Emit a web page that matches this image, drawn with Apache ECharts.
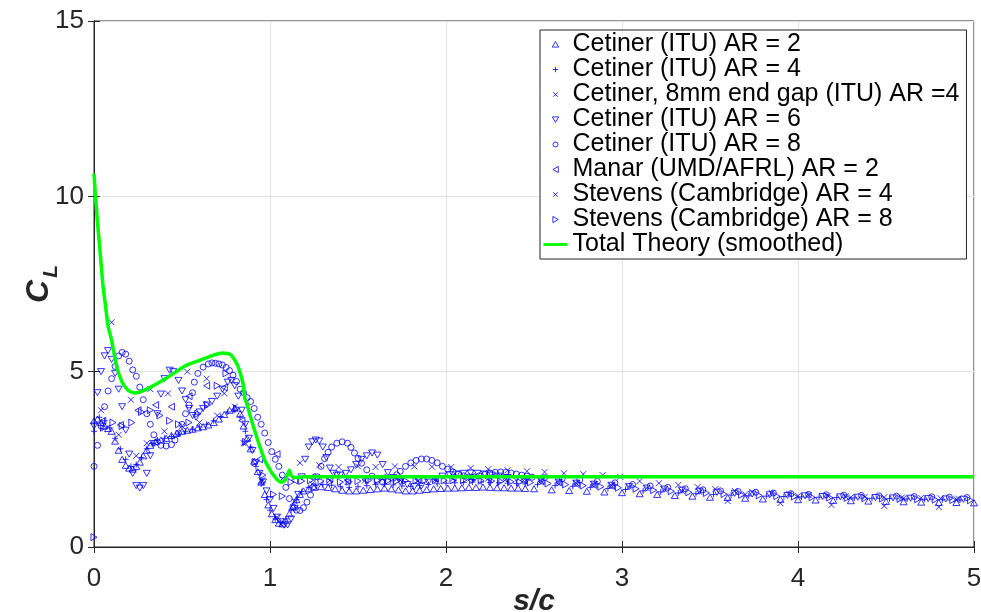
<!DOCTYPE html>
<html><head><meta charset="utf-8">
<script src="https://cdn.jsdelivr.net/npm/echarts@6/dist/echarts.min.js"></script>
<style>html,body{margin:0;padding:0;background:#fff}#c{width:981px;height:612px}</style>
</head><body><div id="c"></div>
<script>
const xTicks = [0, 1, 2, 3, 4, 5];
const yTicks = [0, 5, 10, 15];

const cetinerAR2 = [[0,3.6],[0.02,3.65],[0.04,3.55],[0.06,3.45],[0.08,3.38],[0.1,3.3],[0.12,3.02],[0.14,2.76],[0.16,2.5],[0.18,2.33],[0.2,2.25],[0.22,2.22],[0.24,2.3],[0.26,2.42],[0.28,2.6],[0.3,2.76],[0.32,2.9],[0.35,3.0],[0.38,3.05],[0.41,3.1],[0.44,3.18],[0.47,3.24],[0.5,3.3],[0.53,3.33],[0.56,3.36],[0.59,3.4],[0.62,3.43],[0.65,3.48],[0.68,3.55],[0.71,3.65],[0.74,3.78],[0.77,3.9],[0.8,3.96],[0.83,3.8],[0.85,3.45],[0.87,3.1],[0.89,2.8],[0.91,2.45],[0.93,2.15],[0.95,1.85],[0.97,1.5],[0.99,1.2],[1.01,0.95],[1.03,0.78],[1.05,0.68],[1.07,0.66],[1.09,0.75],[1.11,0.95],[1.13,1.15],[1.15,1.35],[1.17,1.5],[1.19,1.6],[1.22,1.66],[1.25,1.7],[1.29,1.72],[1.33,1.7],[1.37,1.66],[1.41,1.62],[1.45,1.6],[1.49,1.6],[1.53,1.62],[1.57,1.64],[1.61,1.66],[1.65,1.68],[1.69,1.66],[1.73,1.63],[1.77,1.6],[1.81,1.6],[1.85,1.62],[1.89,1.64],[1.93,1.66],[1.97,1.67],[2.01,1.68],[2.05,1.68],[2.09,1.69],[2.13,1.7],[2.17,1.7],[2.21,1.71],[2.25,1.7],[2.29,1.69],[2.33,1.69],[2.37,1.68],[2.41,1.68],[2.45,1.67],[2.5,1.66],[2.6,1.63],[2.7,1.61],[2.8,1.59],[2.9,1.57],[3.0,1.55],[3.1,1.52],[3.2,1.5],[3.3,1.47],[3.4,1.45],[3.5,1.42],[3.6,1.41],[3.7,1.39],[3.8,1.37],[3.9,1.36],[4.0,1.35],[4.1,1.34],[4.2,1.33],[4.3,1.32],[4.4,1.31],[4.5,1.3],[4.6,1.29],[4.7,1.28],[4.8,1.27],[4.9,1.27],[5.0,1.26]];

const cetinerAR4 = [[0,3.3],[0.03,3.7],[0.06,3.6],[0.09,3.4],[0.12,3.1],[0.15,2.8],[0.18,2.5],[0.21,2.3],[0.24,2.35],[0.27,2.55],[0.3,2.8],[0.33,2.95],[0.36,3.05],[0.4,3.1],[0.44,3.15],[0.48,3.22],[0.52,3.3],[0.56,3.35],[0.6,3.42],[0.64,3.5],[0.68,3.6],[0.72,3.72],[0.76,3.85],[0.8,3.9],[0.83,3.7],[0.86,3.3],[0.89,2.85],[0.92,2.3],[0.95,1.8],[0.98,1.35],[1.0,1.05],[1.03,0.8],[1.06,0.7],[1.09,0.8],[1.12,1.05],[1.15,1.35],[1.18,1.58],[1.22,1.7],[1.26,1.76],[1.3,1.78],[1.35,1.76],[1.4,1.72],[1.45,1.7],[1.5,1.72],[1.55,1.75],[1.6,1.78],[1.65,1.79],[1.7,1.77],[1.75,1.74],[1.8,1.73],[1.85,1.75],[1.9,1.78],[1.95,1.8],[2.0,1.82],[2.05,1.83],[2.1,1.84],[2.15,1.85],[2.2,1.85],[2.25,1.84],[2.3,1.83],[2.35,1.82],[2.4,1.81],[2.45,1.8],[2.52,1.78],[2.62,1.75],[2.72,1.73],[2.82,1.7],[2.92,1.67],[3.02,1.64],[3.12,1.6],[3.22,1.57],[3.32,1.54],[3.42,1.52],[3.52,1.5],[3.62,1.48],[3.72,1.46],[3.82,1.45],[3.92,1.44],[4.02,1.43],[4.12,1.42],[4.22,1.41],[4.32,1.4],[4.42,1.39],[4.52,1.38],[4.62,1.37],[4.72,1.36],[4.82,1.35],[4.92,1.34]];

const cetinerGapAR4 = [[0.04,3.9],[0.14,3.2],[0.24,2.6],[0.3,2.96],[0.4,3.3],[0.5,3.45],[0.6,3.55],[0.7,3.75],[0.8,4.0],[0.86,2.96],[0.95,1.9],[1.04,0.85],[1.14,1.3],[1.24,1.8],[1.34,1.9],[1.44,1.85],[1.54,1.9],[1.64,1.95],[1.74,1.9],[1.84,1.88],[1.94,1.92],[2.04,1.95],[2.14,1.96],[2.24,1.95],[2.34,1.93],[2.44,1.9],[2.54,1.88],[2.64,1.85],[2.74,1.82],[2.84,1.79],[2.94,1.75],[3.04,1.72],[3.14,1.68],[3.24,1.64],[3.34,1.6],[3.44,1.57],[3.6,1.31],[3.7,1.5],[3.9,1.25],[4.0,1.46],[4.19,1.2],[4.3,1.42],[4.49,1.17],[4.6,1.39],[4.8,1.14],[4.9,1.36]];

const cetinerAR6 = [[0,3.45],[0.02,4.4],[0.04,5.0],[0.06,5.45],[0.08,5.6],[0.1,5.35],[0.12,4.95],[0.14,4.5],[0.16,4.0],[0.18,3.33],[0.2,2.65],[0.22,2.1],[0.24,1.75],[0.26,1.68],[0.28,1.75],[0.3,2.1],[0.32,2.6],[0.34,2.95],[0.36,3.8],[0.38,4.36],[0.4,4.8],[0.43,5.04],[0.45,5.0],[0.48,4.75],[0.5,4.45],[0.52,4.2],[0.54,3.95],[0.56,3.75],[0.58,3.7],[0.6,3.85],[0.62,3.95],[0.64,4.05],[0.67,4.15],[0.7,4.3],[0.73,4.5],[0.76,4.7],[0.78,4.75],[0.8,4.6],[0.82,4.3],[0.84,3.9],[0.86,3.5],[0.88,3.1],[0.9,2.75],[0.92,2.4],[0.94,2.1],[0.96,1.85],[0.98,1.6],[1.0,1.35],[1.02,1.1],[1.04,0.85],[1.06,0.72],[1.08,0.62],[1.1,0.63],[1.12,0.8],[1.14,1.1],[1.16,1.5],[1.18,2.0],[1.2,2.5],[1.22,2.85],[1.24,3.0],[1.26,3.05],[1.28,3.02],[1.3,2.85],[1.32,2.55],[1.34,2.25],[1.36,2.1],[1.38,2.05],[1.4,2.05],[1.43,2.1],[1.46,2.2],[1.49,2.35],[1.52,2.5],[1.55,2.6],[1.58,2.68],[1.61,2.62],[1.64,2.35],[1.67,2.12],[1.7,1.98],[1.74,1.86],[1.78,1.78],[1.82,1.72],[1.86,1.74],[1.9,1.85],[1.94,1.95],[1.98,2.02],[2.02,2.06],[2.06,2.08],[2.1,2.1],[2.14,2.11],[2.18,2.1],[2.22,2.08],[2.26,2.05],[2.3,2.02],[2.35,1.98],[2.4,1.95],[2.46,1.92],[2.54,1.88],[2.64,1.85],[2.74,1.82],[2.84,1.79],[2.94,1.76],[3.04,1.72],[3.14,1.68],[3.24,1.65],[3.34,1.62],[3.44,1.59],[3.54,1.56],[3.64,1.53],[3.74,1.51],[3.84,1.49],[3.94,1.47],[4.04,1.46],[4.14,1.44],[4.24,1.43],[4.34,1.42],[4.44,1.41],[4.54,1.4],[4.64,1.39],[4.74,1.38],[4.84,1.37],[4.94,1.36]];

const cetinerAR8 = [[0,2.3],[0.02,2.9],[0.04,3.45],[0.06,4.0],[0.08,4.45],[0.1,4.8],[0.12,5.15],[0.14,5.45],[0.16,5.55],[0.18,5.5],[0.2,5.3],[0.22,5.05],[0.24,4.87],[0.26,4.56],[0.28,4.2],[0.3,3.8],[0.32,3.5],[0.34,3.2],[0.36,3.0],[0.38,2.9],[0.41,2.88],[0.44,2.92],[0.46,3.05],[0.48,3.25],[0.5,3.5],[0.52,3.8],[0.54,4.05],[0.56,4.4],[0.57,4.7],[0.59,4.95],[0.62,5.13],[0.65,5.22],[0.67,5.25],[0.69,5.24],[0.71,5.22],[0.73,5.19],[0.75,5.12],[0.77,5.03],[0.79,4.9],[0.81,4.72],[0.83,4.5],[0.85,4.4],[0.87,4.26],[0.89,4.15],[0.91,3.95],[0.93,3.7],[0.95,3.5],[0.97,3.25],[0.99,2.98],[1.01,2.72],[1.03,2.5],[1.05,2.3],[1.07,2.05],[1.09,1.7],[1.11,1.38],[1.13,1.15],[1.15,1.05],[1.17,1.04],[1.19,1.12],[1.21,1.28],[1.23,1.48],[1.25,1.72],[1.27,2.0],[1.29,2.3],[1.31,2.52],[1.33,2.7],[1.35,2.85],[1.38,2.96],[1.41,3.0],[1.44,2.96],[1.46,2.84],[1.48,2.68],[1.5,2.53],[1.52,2.39],[1.55,2.2],[1.58,2.02],[1.61,1.9],[1.64,1.85],[1.67,1.87],[1.7,1.96],[1.72,2.06],[1.74,2.16],[1.77,2.3],[1.8,2.4],[1.83,2.47],[1.86,2.51],[1.89,2.51],[1.92,2.47],[1.95,2.4],[1.98,2.3],[2.01,2.22],[2.04,2.14],[2.07,2.08],[2.1,2.03],[2.13,2.0],[2.16,2.0],[2.19,2.03],[2.22,2.07],[2.25,2.11],[2.28,2.13],[2.31,2.14],[2.34,2.13],[2.37,2.11],[2.4,2.08],[2.43,2.05],[2.46,2.02],[2.49,1.99],[2.56,1.98],[2.66,1.95],[2.76,1.91],[2.86,1.87],[2.96,1.83],[3.06,1.78],[3.16,1.74],[3.26,1.7],[3.36,1.66],[3.46,1.63],[3.56,1.6],[3.66,1.58],[3.76,1.56],[3.86,1.54],[3.96,1.52],[4.06,1.5],[4.16,1.49],[4.26,1.48],[4.36,1.47],[4.46,1.46],[4.56,1.45],[4.66,1.44],[4.76,1.43],[4.86,1.42],[4.96,1.41]];

const manarAR2 = [[0.05,3.6],[0.15,3.48],[0.25,3.9],[0.35,4.05],[0.44,4.0],[0.54,4.3],[0.64,4.6],[0.74,4.55],[0.84,3.6],[0.94,2.5],[1.04,2.65],[1.14,1.9],[1.24,2.0],[1.34,1.95],[1.44,1.9],[1.54,1.92],[1.64,1.97],[1.74,1.95],[1.84,1.93],[1.94,1.95],[2.04,1.98],[2.14,1.98],[2.24,1.96],[2.34,1.93],[2.44,1.9],[2.54,1.87],[2.64,1.84],[2.74,1.8],[2.84,1.77],[2.94,1.74]];

const stevensAR4 = [[0.1,6.41],[0.21,4.2],[0.32,4.5],[0.42,4.38],[0.53,5.0],[0.64,4.8],[0.74,4.38],[0.85,2.96],[0.96,1.9],[1.07,1.95],[1.17,2.4],[1.28,2.33],[1.39,2.28],[1.5,2.3],[1.6,2.28],[1.71,2.3],[1.82,2.3],[1.92,2.29],[2.03,2.28],[2.14,2.25],[2.24,2.22],[2.35,2.19],[2.46,2.16],[2.56,2.14],[2.67,2.1],[2.78,2.08],[2.89,2.05],[2.99,2.0],[3.1,1.88],[3.21,1.82],[3.32,1.77],[3.43,1.71],[3.53,1.65],[3.64,1.6],[3.74,1.57],[3.85,1.54],[3.95,1.51],[4.06,1.48],[4.17,1.46],[4.27,1.44],[4.38,1.43],[4.49,1.42],[4.59,1.41],[4.7,1.4],[4.81,1.39],[4.91,1.38]];

const stevensAR8 = [[0.0,0.28],[0.054,3.4],[0.108,3.55],[0.16,3.45],[0.215,3.55],[0.27,3.85],[0.32,3.9],[0.375,3.75],[0.43,3.6],[0.48,3.5],[0.54,3.55],[0.59,3.8],[0.645,4.05],[0.7,4.6],[0.75,4.95],[0.81,3.95],[0.86,3.0],[0.915,2.42],[0.96,2.05],[1.02,1.5],[1.07,1.45],[1.12,1.85],[1.18,1.88],[1.23,1.9],[1.29,1.88],[1.34,1.86],[1.4,1.85],[1.45,1.86],[1.5,1.88],[1.56,1.9],[1.61,1.9],[1.67,1.89],[1.72,1.88],[1.77,1.89],[1.83,1.9],[1.88,1.9],[1.94,1.9],[1.99,1.9],[2.04,1.9],[2.1,1.9],[2.15,1.9],[2.2,1.89],[2.26,1.88],[2.31,1.87],[2.37,1.86],[2.42,1.85],[2.48,1.84],[2.58,1.81],[2.68,1.78],[2.78,1.75],[2.88,1.72],[2.98,1.69],[3.08,1.66],[3.18,1.62],[3.28,1.59],[3.38,1.56],[3.48,1.54],[3.58,1.51],[3.68,1.49],[3.78,1.47],[3.88,1.45],[3.98,1.44],[4.08,1.42],[4.18,1.41],[4.28,1.4],[4.38,1.39],[4.48,1.38],[4.58,1.37],[4.68,1.36],[4.78,1.35],[4.88,1.34],[4.98,1.33]];

const theory = [[0,10.65],[0.01,9.9],[0.02,9.25],[0.034,8.46],[0.05,7.5],[0.0625,7.0],[0.08,6.3],[0.1,5.9],[0.115,5.5],[0.13,5.13],[0.16,4.7],[0.195,4.47],[0.23,4.39],[0.3,4.5],[0.41,4.81],[0.52,5.17],[0.6,5.32],[0.68,5.47],[0.73,5.53],[0.76,5.52],[0.78,5.47],[0.8,5.33],[0.82,5.13],[0.84,4.8],[0.85,4.56],[0.855,4.3],[0.86,4.19],[0.865,4.15],[0.89,3.7],[0.93,3.05],[0.97,2.48],[1.0,2.2],[1.02,2.05],[1.05,1.88],[1.07,1.85],[1.09,1.95],[1.11,2.19],[1.12,2.05],[1.13,1.98],[1.2,2.0],[5,2.0]];

const FONT = 'Liberation Sans, Arial, Helvetica, sans-serif';
const BLUE = '#0000ff';
const TRI_UP = 'path://M5,0L10,8.66L0,8.66Z';
const TRI_DOWN = 'path://M0,0L10,0L5,8.66Z';
const TRI_LEFT = 'path://M0,5L8.66,0L8.66,10Z';
const TRI_RIGHT = 'path://M0,0L8.66,5L0,10Z';
const PLUS = 'path://M0,5L10,5M5,0L5,10';
const CROSS = 'path://M0,0L10,10M10,0L0,10';

const LEG_BOX = 'M0,0M24,7';
const legIcons = [
  'path://' + LEG_BOX + 'M12,0.6L15.2,6.1L8.8,6.1Z',
  'path://' + LEG_BOX + 'M9.3,3.5L14.7,3.5M12,0.8L12,6.2',
  'path://' + LEG_BOX + 'M9.8,1.3L14.2,5.7M14.2,1.3L9.8,5.7',
  'path://' + LEG_BOX + 'M8.8,0.9L15.2,0.9L12,6.4Z',
  'path://' + LEG_BOX + 'M14.5,3.5A2.5,2.5,0,1,1,9.5,3.5A2.5,2.5,0,1,1,14.5,3.5Z',
  'path://' + LEG_BOX + 'M9.4,3.5L14.8,0.4L14.8,6.6Z',
  'path://' + LEG_BOX + 'M9.8,1.3L14.2,5.7M14.2,1.3L9.8,5.7',
  'path://' + LEG_BOX + 'M9.4,0.4L14.8,3.5L9.4,6.6Z',
  'path://' + LEG_BOX + 'M0,2.1L24,2.1L24,4.9L0,4.9Z'
];

function sc(name, data, symbol, size) {
  return {
    name, type: 'scatter', data, symbol, symbolSize: size,
    symbolKeepAspect: true,
    itemStyle: { color: 'rgba(0,0,0,0)', borderColor: BLUE, borderWidth: 1 },
    emphasis: { disabled: true }, z: 2
  };
}

const names = ['Cetiner (ITU) AR = 2','Cetiner (ITU) AR = 4','Cetiner, 8mm end gap (ITU) AR =4','Cetiner (ITU) AR = 6','Cetiner (ITU) AR = 8','Manar (UMD/AFRL) AR = 2','Stevens (Cambridge) AR = 4','Stevens (Cambridge) AR = 8','Total Theory (smoothed)'];

const legendData = names.map((n, i) => i < 8
  ? { name: n, icon: legIcons[i], itemStyle: { color: 'rgba(0,0,0,0)', borderColor: BLUE, borderWidth: 1 } }
  : { name: n, icon: legIcons[i], itemStyle: { color: '#00ff00', borderWidth: 0 } });

const chart = echarts.init(document.getElementById('c'), null, { renderer: 'canvas' });
const tickStyle = { show: true, inside: true, length: 6, lineStyle: { color: '#262626' } };
chart.setOption({
  animation: false,
  backgroundColor: '#fff',
  grid: { left: 94, right: 7, top: 21, bottom: 65, show: true, borderColor: '#262626', borderWidth: 1, backgroundColor: '#fff', outerBoundsMode: 'none', containLabel: false },
  xAxis: [
    { type: 'value', min: 0, max: 5, interval: 1,
      axisLine: { show: true, lineStyle: { color: '#262626', width: 1 } },
      axisTick: tickStyle,
      splitLine: { show: true, lineStyle: { color: '#e3e3e3', width: 1 } },
      name: 's/c', nameLocation: 'middle', nameGap: 40, nameMoveOverlap: false,
      nameTextStyle: { fontSize: 30, fontWeight: 'bold', fontStyle: 'italic', color: '#262626', fontFamily: FONT },
      axisLabel: { color: '#262626', fontSize: 26, fontFamily: FONT, margin: 19 } },
    { type: 'value', position: 'top', min: 0, max: 5, interval: 1, axisLabel: { show: false },
      axisLine: { show: true, lineStyle: { color: '#262626' } }, axisTick: tickStyle, splitLine: { show: false } }
  ],
  yAxis: [
    { type: 'value', min: 0, max: 15, interval: 5,
      axisLine: { show: true, lineStyle: { color: '#262626', width: 1 } },
      axisTick: tickStyle,
      splitLine: { show: true, lineStyle: { color: '#e3e3e3', width: 1 } },
      name: '{c|C}{l|L}', nameLocation: 'middle', nameGap: 39, nameRotate: 90, nameMoveOverlap: false,
      nameTextStyle: { rich: {
        c: { fontSize: 32, fontWeight: 'bold', fontStyle: 'italic', color: '#262626', fontFamily: FONT, verticalAlign: 'bottom' },
        l: { fontSize: 21, fontWeight: 'bold', fontStyle: 'italic', color: '#262626', fontFamily: FONT, verticalAlign: 'bottom', padding: [0,0,-7,2] } } },
      axisLabel: { color: '#262626', fontSize: 26, fontFamily: FONT, margin: 10 } },
    { type: 'value', position: 'right', min: 0, max: 15, interval: 5, axisLabel: { show: false },
      axisLine: { show: true, lineStyle: { color: '#262626' } }, axisTick: tickStyle, splitLine: { show: false } }
  ],
  legend: {
    data: legendData, orient: 'vertical', left: 540, top: 30,
    backgroundColor: '#fff', borderColor: '#262626', borderWidth: 1,
    padding: [2, 7, 2, 3], itemGap: 0, itemWidth: 24, itemHeight: 7, symbolRotate: 0,
    textStyle: { fontSize: 25, lineHeight: 24.7, fontFamily: FONT, color: '#000' },
    selectedMode: false
  },
  series: [
    sc(names[0], cetinerAR2, TRI_UP, 7),
    sc(names[1], cetinerAR4, PLUS, 6),
    sc(names[2], cetinerGapAR4, CROSS, 6),
    sc(names[3], cetinerAR6, TRI_DOWN, 7),
    sc(names[4], cetinerAR8, 'circle', 6),
    sc(names[5], manarAR2, TRI_LEFT, 7),
    sc(names[6], stevensAR4, CROSS, 6),
    sc(names[7], stevensAR8, TRI_RIGHT, 7),
    { name: names[8], type: 'line', data: theory, showSymbol: false, symbol: 'none', smooth: 0.2,
      lineStyle: { color: '#00ff00', width: 3.5 }, itemStyle: { color: '#00ff00' }, z: 5, emphasis: { disabled: true } }
  ]
});
</script></body></html>
